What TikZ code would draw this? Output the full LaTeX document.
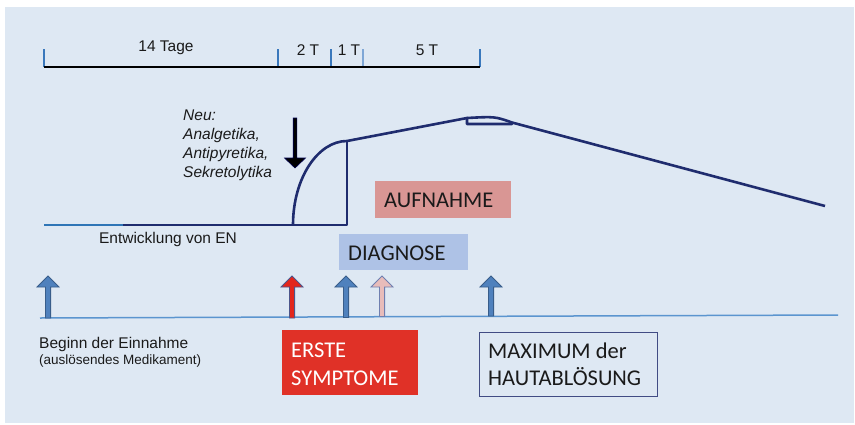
\documentclass[tikz,border=0pt]{standalone}
\usepackage{fontspec}
\setmainfont{Liberation Sans}
\newfontfamily\carl{Carlito}
\definecolor{bg}{HTML}{DEE8F3}
\definecolor{navy}{HTML}{1F2C6E}
\definecolor{tickblue}{HTML}{3A78BC}
\definecolor{ticklight}{HTML}{7FA7D6}
\definecolor{lineblue}{HTML}{2E75B6}
\definecolor{baseblue}{HTML}{5B95CF}
\definecolor{aufn}{HTML}{D99694}
\definecolor{diag}{HTML}{AEC2E6}
\definecolor{ersred}{HTML}{E03127}
\definecolor{arrblue}{HTML}{4F81BD}
\definecolor{arredge}{HTML}{385D8A}
\definecolor{arrred}{HTML}{E3261C}
\definecolor{arrpink}{HTML}{E8BCBA}
\definecolor{pinkedge}{HTML}{6F7FB0}
\definecolor{txt}{HTML}{1A1A1A}
\newcommand\UpArr[4]{%
  \filldraw[fill=#2,draw=#3,line width=0.8pt,line join=miter]
    (#1-2.6,#4) -- (#1-2.6,287) -- (#1-11,287) -- (#1,276) -- (#1+11,287)
    -- (#1+2.6,287) -- (#1+2.6,#4) -- cycle;}
\tikzset{
  lbl/.style={inner sep=0pt,anchor=base,text=txt,font=\fontsize{15.5}{18}\selectfont},
  lblw/.style={lbl,anchor=base west},
  ital/.style={lblw,font=\fontsize{15.5}{18}\selectfont\itshape},
  bigtxt/.style={inner sep=0pt,anchor=base west,text=txt,font=\carl\fontsize{22.5}{27}\selectfont},
  boxnode/.style={inner sep=0pt,anchor=north west},
  tick/.style={tickblue,line width=1.4pt},
  curve/.style={navy,line width=2.6pt,line join=round}
}
\begin{document}
\begin{tikzpicture}[x=1pt,y=-1pt]
\fill[white] (0,0) rectangle (855,424);
\fill[bg] (5,7) rectangle (854,423);
\useasboundingbox (0,0) rectangle (855,424);

% top timeline
\coordinate (t0) at (44,67);
\coordinate (t1) at (278,67);
\coordinate (t2) at (331,67);
\coordinate (t3) at (363,67);
\coordinate (t4) at (480,67);
\draw[tick] (t0) -- ++(0,-18);
\draw[tick] (t1) -- ++(0,-18);
\draw[tick] (t2) -- ++(0,-18);
\draw[tick,ticklight] (t3) -- ++(0,-18);
\draw[tick] (t4) -- ++(0,-18);
\draw[black,line width=2.6pt] (t0) -- (t4);
\node[lbl] (l14) at (166,51) {14 Tage};
\node[lbl] (l2) at (308,55) {2 T};
\node[lbl] (l1) at (349,55) {1 T};
\node[lbl] (l5) at (427,55) {5 T};

% main curve
\coordinate (c0) at (44,225);
\coordinate (c1) at (123,225);
\coordinate (c2) at (293,225);
\coordinate (c3) at (347,225);
\coordinate (c4) at (347,141);
\coordinate (c5) at (467,118);
\coordinate (c6) at (467,124);
\coordinate (c7) at (512,124);
\coordinate (c8) at (512,122.5);
\coordinate (c9) at (825,206);
\draw[lineblue,line width=2.6pt] (c0) -- (c1);
\draw[curve] (c1) -- (c3) -- (c4);
\draw[curve] (c2) .. controls (293,178) and (318,141) .. (c4) -- (c5) -- (c6) -- (c7) -- (c8);
\draw[curve] (c5) .. controls (495,116.5) .. (c8) -- (c9);
\node[lbl] (entw) at (168,243) {Entwicklung von EN};

% down arrow
\filldraw[fill=black,draw=black!70!blue,line width=0.6pt,line join=miter]
  (293.2,118) -- (296.8,118) -- (296.8,158) -- (305.5,158) -- (295,168)
  -- (284.5,158) -- (293.2,158) -- cycle;
\node[ital] (neu1) at (183,120) {Neu:};
\node[ital] (neu2) at (183,139) {Analgetika,};
\node[ital] (neu3) at (183,158) {Antipyretika,};
\node[ital] (neu4) at (183,177) {Sekretolytika};

% AUFNAHME / DIAGNOSE
\node[boxnode,fill=aufn,minimum width=136pt,minimum height=37pt] (aufbox) at (375,181) {};
\node[bigtxt] (auftxt) at (384,207) {AUFNAHME};
\node[boxnode,fill=diag,minimum width=129pt,minimum height=36pt] (diabox) at (339,234) {};
\node[bigtxt] (diatxt) at (348,260) {DIAGNOSE};

% bottom baseline and arrows
\coordinate (b0) at (40,318);
\coordinate (b1) at (838,315);
\draw[baseblue,line width=1.5pt] (b0) -- (b1);
\UpArr{48}{arrblue}{arredge}{318}
\UpArr{292}{arrred}{navy!80}{318}
\UpArr{346}{arrblue}{arredge}{317.5}
\UpArr{382}{arrpink}{pinkedge}{316.5}
\UpArr{491}{arrblue}{arredge}{316}

\node[lblw] (beg) at (39,348) {Beginn der Einnahme};
\node[lblw,font=\fontsize{13.5}{16}\selectfont] (med) at (39,364.5) {(auslösendes Medikament)};

% ERSTE SYMPTOME
\node[boxnode,fill=ersred,minimum width=136pt,minimum height=65pt] (ersbox) at (282,330) {};
\node[bigtxt,text=white] (ers1) at (291,357) {ERSTE};
\node[bigtxt,text=white] (ers2) at (291,385) {SYMPTOME};

% MAXIMUM
\node[boxnode,draw=navy!85,line width=0.9pt,minimum width=178pt,minimum height=64pt] (maxbox) at (479,332) {};
\node[bigtxt] (max1) at (488,358) {MAXIMUM der};
\node[bigtxt] (max2) at (488,385) {HAUTABLÖSUNG};
\end{tikzpicture}
\end{document}
